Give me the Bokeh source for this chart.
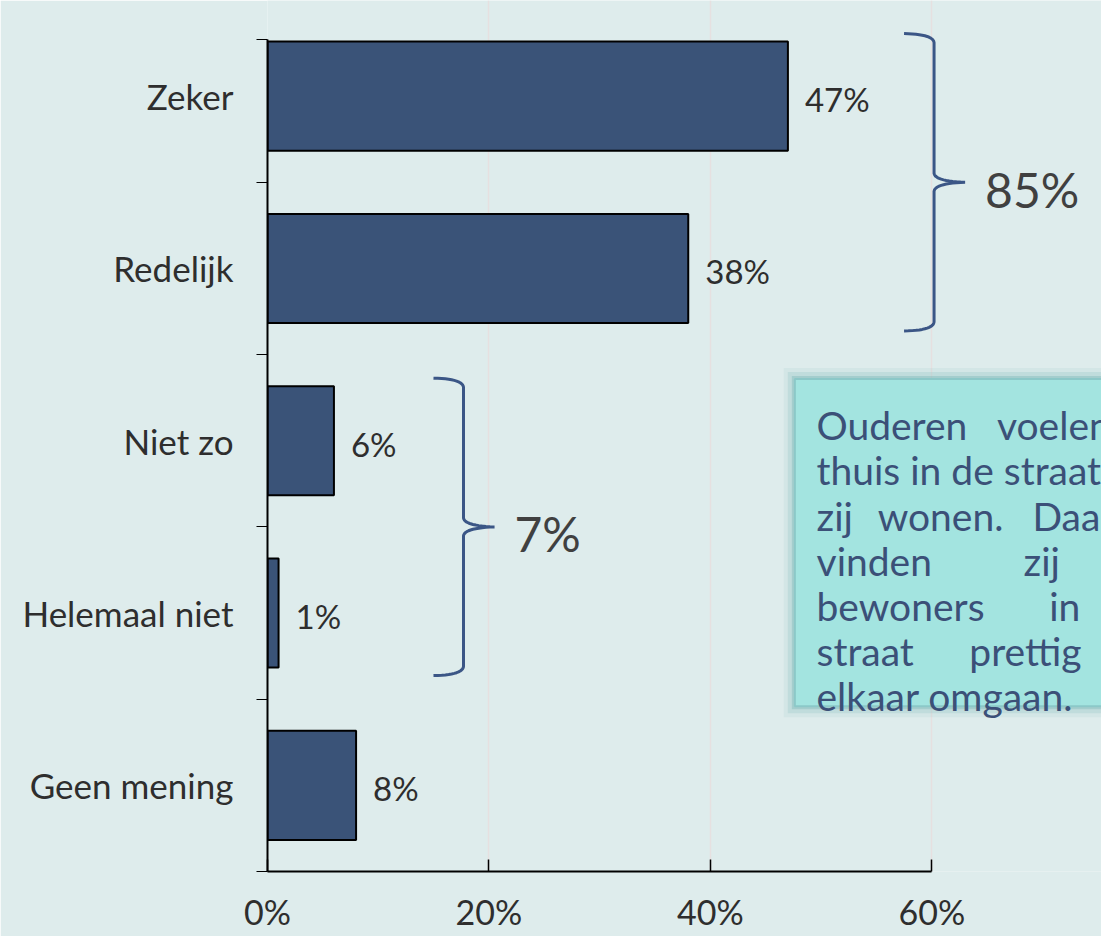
import numpy as np
from bokeh.plotting import figure
from bokeh.models import FixedTicker, ColumnDataSource, Range1d
from bokeh.embed import file_html
from bokeh.resources import INLINE
from bokeh.core.properties import value

# ---------------- data ----------------
categories = ["Zeker", "Redelijk", "Niet zo", "Helemaal niet", "Geen mening"]
values = [47, 38, 6, 1, 8]
value_labels = ["47%", "38%", "6%", "1%", "8%"]
x_ticks = [0, 20, 40, 60]
x_tick_labels = ["0%", "20%", "40%", "60%"]
group_labels = ["85%", "7%"]
group_members = [["Zeker", "Redelijk"], ["Niet zo", "Helemaal niet"]]
group_brace_x = [60.2, 17.7]          # brace position, in % of the x axis
box_lines = [["Ouderen", "voelen"],
             ["thuis in de straat"],
             ["zij", "wonen.", "Daarnaast"],
             ["vinden", "zij"],
             ["bewoners", "in"],
             ["straat", "prettig"],
             ["elkaar omgaan."]]
box_word_offsets = [[0, 183], [0], [0, 62, 219], [0, 210], [0, 236], [0, 155], [0]]

# ---------------- style ----------------
BG = "#deecec"
BAR = "#3a5378"
TXT = "#2e2e2e"
BRACE = "#3b5686"
BOXTXT = "#3b5078"
FONT = "Lato"

W, H = 1101, 936
SX, SY = W / 1117.0, H / 952.0
ML = int(round(271 * SX))
FB = int(round(886 * SY))
MB = H - FB
FW, FH = W - ML, FB
PXX = 60 / ((945 - 271) * SX)     # % per canvas pixel
PXY = 1 / (175.25 * SY)           # category units per canvas pixel
bar_h = 0.633

n = len(categories)
ypos = [n - 1 - i + 0.5 for i in range(n)]
ymap = dict(zip(categories, ypos))

p = figure(width=W, height=H, output_backend="svg", toolbar_location=None,
           x_range=Range1d(0, FW * PXX), y_range=Range1d(0, FH * PXY),
           min_border_left=ML, min_border_right=0, min_border_top=0,
           min_border_bottom=MB, title=None)
p.background_fill_color = BG
p.border_fill_color = BG
p.outline_line_color = None

# grid
p.ygrid.visible = False
p.xgrid.grid_line_color = "#e6e0e0"
p.xgrid.grid_line_width = 1.5

# bars
src = ColumnDataSource(dict(y=ypos, v=values, lab=value_labels))
p.hbar(y="y", left=0, right="v", height=bar_h, source=src,
       fill_color=BAR, line_color="black", line_width=2)
p.text(x="v", y="y", text="lab", source=src, x_offset=17, y_offset=3,
       text_align="left", text_baseline="middle", text_color=TXT,
       text_font=value(FONT), text_font_size="33px")

# y axis
yax = p.yaxis[0]
top_bound = 846 / 175.25
yax.ticker = FixedTicker(ticks=ypos, minor_ticks=[0, 1, 2, 3, 4, top_bound])
yax.bounds = (0, top_bound)
yax.major_label_overrides = {y: c for y, c in zip(ypos, categories)}
yax.major_tick_line_color = None
yax.major_tick_out = 0
yax.major_tick_in = 0
yax.minor_tick_in = 0
yax.minor_tick_out = 11
yax.minor_tick_line_color = "black"
yax.minor_tick_line_width = 1
yax.axis_line_color = "black"
yax.axis_line_width = 2
yax.major_label_standoff = 23
yax.major_label_text_font = FONT
yax.major_label_text_font_size = "35px"
yax.major_label_text_color = TXT

# x axis
xax = p.xaxis[0]
xax.ticker = FixedTicker(ticks=x_ticks, minor_ticks=[])
xax.bounds = (0, 60)
xax.major_label_overrides = {t: l for t, l in zip(x_ticks, x_tick_labels)}
xax.major_tick_in = 12
xax.major_tick_out = 0
xax.major_tick_line_color = "black"
xax.major_tick_line_width = 1.5
xax.axis_line_color = "black"
xax.axis_line_width = 2
xax.major_label_standoff = 19
xax.major_label_text_font = FONT
xax.major_label_text_font_size = "34px"
xax.major_label_text_color = TXT


# braces
def quad(p0, c, p1, k=14):
    t = np.linspace(0, 1, k)
    x = (1 - t) ** 2 * p0[0] + 2 * (1 - t) * t * c[0] + t ** 2 * p1[0]
    y = (1 - t) ** 2 * p0[1] + 2 * (1 - t) * t * c[1] + t ** 2 * p1[1]
    return list(x), list(y)


hook, tip = 30, 31
bx, by, lx, ly = [], [], [], []
for members, bxp in zip(group_members, group_brace_x):
    ys = [ymap[m] for m in members]
    T = (max(ys) + bar_h / 2) / PXY + 8
    B = (min(ys) - bar_h / 2) / PXY - 8
    M = (max(ys) + min(ys)) / 2 / PXY
    X = bxp / PXX
    xs, yy = [], []
    for seg in [quad((X - hook, T), (X - 1, T - 0.5), (X, T - 9)),
                quad((X, M + 9), (X + 1, M + 1), (X + tip, M)),
                quad((X + tip, M), (X + 1, M - 1), (X, M - 9)),
                quad((X, B + 9), (X - 1, B + 0.5), (X - hook, B))]:
        xs += seg[0]
        yy += seg[1]
    bx.append([v * PXX for v in xs])
    by.append([v * PXY for v in yy])
    lx.append((X + tip + 20) * PXX)
    ly.append((M - 7) * PXY)

p.multi_line(xs=bx, ys=by, line_color=BRACE, line_width=3)
p.text(x=lx, y=ly, text=group_labels, text_align="left", text_baseline="middle",
       text_color="#404040", text_font=value(FONT), text_font_size="48px")

# text box
box_l = (806 - 271) * 60 / 674
box_t = (886 - 385) / 175.25
box_b = (886 - 718) / 175.25
box_r = 90
for grow, col, a in [(11, "#86bcbc", 0.12), (7, "#80baba", 0.22), (3, "#7ab6b6", 0.4)]:
    p.quad(left=box_l - grow * PXX, right=box_r, top=box_t + grow * PXY,
           bottom=box_b - grow * PXY, fill_color=col, fill_alpha=a, line_color=None)
p.quad(left=box_l, right=box_r, top=box_t, bottom=box_b,
       fill_color="#a3e4e0", line_color="#8cc8c8", line_width=2)

tx, ty, tt = [], [], []
for i, (words, offs) in enumerate(zip(box_lines, box_word_offsets)):
    base = box_t - (47 + 46 * i) * SY * PXY
    for w, o in zip(words, offs):
        tx.append(box_l + (22 + o) * SX * PXX)
        ty.append(base)
        tt.append(w)
p.text(x=tx, y=ty, text=tt, text_align="left", text_baseline="alphabetic",
       text_color=BOXTXT, text_font=value(FONT), text_font_size="39px")

open("out.html", "w").write(file_html(p, INLINE))
